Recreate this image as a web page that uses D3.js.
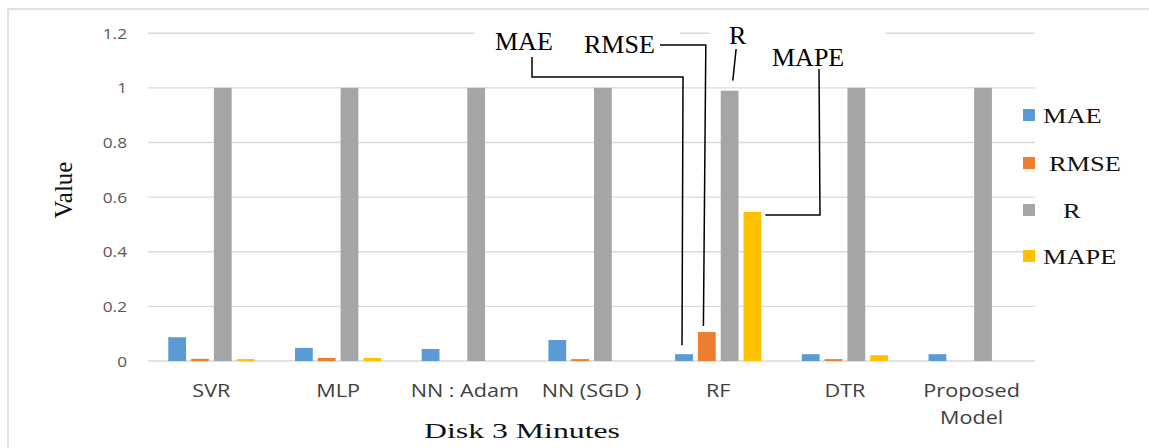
<!DOCTYPE html>
<html><head><meta charset="utf-8">
<script src="https://cdn.jsdelivr.net/npm/d3@7"></script>
<style>body{margin:0;background:#fff}svg{display:block}</style>
</head><body><svg id="c" width="1149" height="448"></svg>
<script>
const categories = ["SVR","MLP","NN : Adam","NN (SGD )","RF","DTR","Proposed Model"];
const categoryLines = [["SVR"],["MLP"],["NN : Adam"],["NN (SGD )"],["RF"],["DTR"],["Proposed","Model"]];
const seriesNames = ["MAE","RMSE","R","MAPE"];
const maeValues  = [0.087,0.048,0.044,0.077,0.025,0.025,0.025];
const rmseValues = [0.008,0.011,0,0.007,0.106,0.007,0];
const rValues    = [1,1,1,1,0.99,1,1];
const mapeValues = [0.007,0.011,0,0,0.546,0.021,0];
const yTicks = [0,0.2,0.4,0.6,0.8,1,1.2];
const tickLabels = ["0","0.2","0.4","0.6","0.8","1","1.2"];
const colors = ["#5B9BD5","#ED7D31","#A5A5A5","#FFC000"];
const yTitle = "Value";
const xTitle = "Disk 3 Minutes";

(function(){
const seriesValues = [maeValues, rmseValues, rValues, mapeValues];
const svg = d3.select("#c");

// outer frame
svg.append("rect").attr("x",8).attr("y",9).attr("width",1160).attr("height",460)
  .attr("fill","#fff").attr("stroke","#d9d9d9").attr("stroke-width",1.5);

const x0 = d3.scaleBand().domain(categories).range([148,1035]).padding(0);
const x1 = d3.scaleBand().domain(seriesNames).range([-45.6,45.6]).paddingInner(0.22).paddingOuter(0.11);
const y = d3.scaleLinear().domain([0,1.2]).range([361,33.3]);

// gridlines
svg.append("g").selectAll("line").data(yTicks).join("line")
  .attr("x1",148).attr("x2",1035)
  .attr("y1",d=>y(d)).attr("y2",d=>y(d))
  .attr("stroke","#d9d9d9").attr("stroke-width",1.4);

// y tick labels
svg.append("g").selectAll("text").data(yTicks).join("text")
  .attr("transform",d=>`translate(127,${y(d)+5.5}) scale(1.15,1)`)
  .attr("text-anchor","end")
  .attr("font-family","Open Sans").attr("font-size",15).attr("fill","#595959")
  .text((d,i)=>tickLabels[i]);

// bars
const groups = svg.append("g").selectAll("g").data(categories).join("g")
  .attr("transform",d=>`translate(${x0(d)+x0.bandwidth()/2},0)`);
groups.selectAll("rect").data((c,ci)=>seriesNames.map((s,si)=>({s,si,v:seriesValues[si][ci]})))
  .join("rect")
  .attr("x",d=>x1(d.s)).attr("width",x1.bandwidth())
  .attr("y",d=>y(d.v)).attr("height",d=>y(0)-y(d.v))
  .attr("fill",d=>colors[d.si]);

// category labels
const cl = svg.append("g").selectAll("g").data(categories).join("g")
  .attr("transform",d=>`translate(${x0(d)+x0.bandwidth()/2},0)`);
cl.each(function(c,ci){
  const g=d3.select(this);
  categoryLines[ci].forEach((ln,li)=>{
    g.append("text").attr("transform",`translate(0,${397+li*27}) scale(1.2,1)`)
      .attr("text-anchor","middle").attr("font-family","Open Sans").attr("font-size",18)
      .attr("fill","#404040").text(ln);
  });
});

// axis titles
svg.append("text").attr("transform","translate(72,190) rotate(-90)")
  .attr("text-anchor","middle").attr("font-family","Liberation Serif").attr("font-size",25)
  .attr("fill","#111").text(yTitle);
svg.append("text").attr("x",424).attr("y",437.5)
  .attr("font-family","Liberation Serif").attr("font-size",22).attr("fill","#111")
  .attr("textLength",196).attr("lengthAdjust","spacingAndGlyphs").text(xTitle);

// legend
const legY = [115,163,210,256];
const legDx = [0,6,20,0];
const leg = svg.append("g").selectAll("g").data(seriesNames).join("g");
leg.append("rect").attr("x",1023).attr("y",(d,i)=>legY[i]-6).attr("width",12).attr("height",12)
  .attr("fill",(d,i)=>colors[i]);
leg.append("text").attr("transform",(d,i)=>`translate(${1043+legDx[i]},${legY[i]+7.5}) scale(1.2,1)`)
  .attr("font-family","Liberation Serif").attr("font-size",22).attr("fill","#111").text(d=>d);

// callouts for RF
const rf = "RF", ri = categories.indexOf(rf);
const cx = s => x0(rf)+x0.bandwidth()/2 + x1(s) + x1.bandwidth()/2;
const barTop = s => y(seriesValues[seriesNames.indexOf(s)][ri]);
// white label backgrounds
svg.append("rect").attr("x",475).attr("y",22).attr("width",205).attr("height",34).attr("fill","#fff");
svg.append("rect").attr("x",709).attr("y",20).attr("width",176).attr("height",30).attr("fill","#fff");

const ann = svg.append("g").attr("font-family","Liberation Serif").attr("font-size",26).attr("fill","#000");
ann.append("text").attr("x",495).attr("y",50).text("MAE");
ann.append("text").attr("x",584).attr("y",53).text("RMSE");
ann.append("text").attr("x",729).attr("y",44).text("R");
ann.append("text").attr("x",772).attr("y",66).text("MAPE");

const lines = [
  `M532,57 V77 H${cx("MAE")-1} L${cx("MAE")-2},${barTop("MAE")-9}`,
  `M660,45 H${cx("RMSE")-1} L${cx("RMSE")-3.4},${barTop("RMSE")-6}`,
  `M${cx("R")+6.5},49 L${cx("R")+3.2},${barTop("R")-10}`,
  `M819,69 L820,${barTop("MAPE")+3} H${cx("MAPE")+x1.bandwidth()/2+4}`
];
svg.append("g").selectAll("path").data(lines).join("path")
  .attr("d",d=>d).attr("fill","none").attr("stroke","#000").attr("stroke-width",1.5);
})();
</script></body></html>
